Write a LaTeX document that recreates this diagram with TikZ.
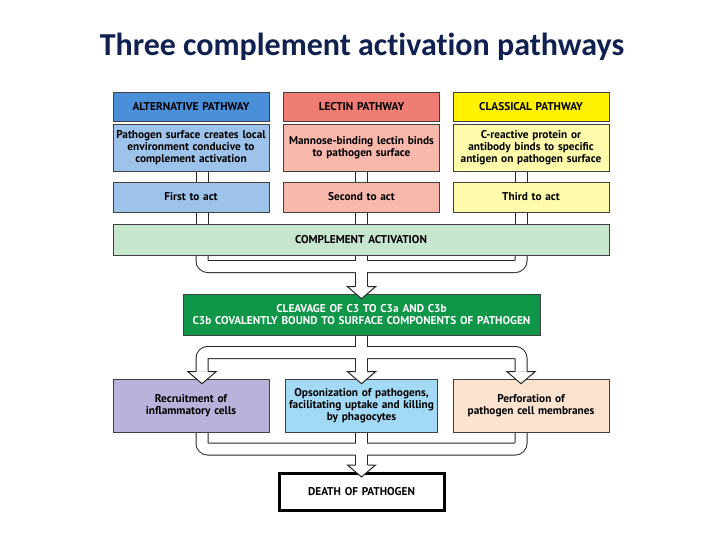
\documentclass[tikz,border=0pt]{standalone}
\usepackage{fontspec}
\setmainfont{PT Sans}
\newfontfamily\titlefont[Ligatures=NoCommon]{Carlito}
\usetikzlibrary{backgrounds,calc}
\definecolor{titleblue}{RGB}{16,32,80}
\definecolor{altdark}{RGB}{74,144,217}
\definecolor{altlight}{RGB}{158,195,235}
\definecolor{lecdark}{RGB}{240,125,115}
\definecolor{leclight}{RGB}{249,184,172}
\definecolor{cladark}{RGB}{255,242,0}
\definecolor{clalight}{RGB}{255,251,170}
\definecolor{complgreen}{RGB}{199,230,207}
\definecolor{cleavgreen}{RGB}{16,150,72}
\definecolor{recruitc}{RGB}{183,179,219}
\definecolor{opsonc}{RGB}{162,218,246}
\definecolor{perfc}{RGB}{252,227,207}
\newcommand{\openhead}[1]{%
  \begin{scope}[shift={#1}]
    \fill[white] (-14,-7) -- (14,-7) -- (0,5) -- cycle;
    \draw[headline] (-6,-7) -- (-14,-7) -- (0,5) -- (14,-7) -- (6,-7);
  \end{scope}}

\begin{document}
\begin{tikzpicture}[x=1pt, y=-1pt,
    box/.style={draw=black!75, line width=0.6pt, inner sep=0pt, align=center,
      font=\bfseries\fontsize{11.3}{12}\selectfont},
    colbox/.style={box, text width=156pt},
    headline/.style={draw=black!85, line width=1pt, line join=miter},
    pipeout/.style={line width=13pt, draw=black!85, rounded corners=6pt},
    pipein/.style={line width=11pt, draw=white, rounded corners=6pt}]
  \useasboundingbox (0,0) rectangle (720,540);
  \node[text=titleblue, font=\titlefont\bfseries\fontsize{32}{36}\selectfont] (title) at (362,47) {Three complement activation pathways};

  \coordinate (colA) at (202,0);
  \coordinate (colB) at (361.5,0);
  \coordinate (colC) at (521,0);
  \coordinate (hubTop) at (361.5,266.5);
  \coordinate (hubMid) at (361.5,352.5);
  \coordinate (hubLow) at (361.5,449);

  \node[colbox, fill=altdark, minimum height=29pt] (altHead) at (191,106.5) {ALTERNATIVE PATHWAY};
  \node[colbox, fill=lecdark, minimum height=29pt] (lecHead) at (361.5,106.5) {LECTIN PATHWAY};
  \node[colbox, fill=cladark, minimum height=29pt] (claHead) at (531,106.5) {CLASSICAL PATHWAY};

  \node[colbox, fill=altlight, minimum height=47pt] (altDesc) at (191,147.5) {Pathogen surface creates local\\environment conducive to\\complement activation};
  \node[colbox, fill=leclight, minimum height=47pt] (lecDesc) at (361.5,147.5) {Mannose-binding lectin binds\\to pathogen surface};
  \node[colbox, fill=clalight, minimum height=47pt] (claDesc) at (531,147.5) {C-reactive protein or\\antibody binds to specific\\antigen on pathogen surface};

  \node[colbox, fill=altlight, minimum height=30pt] (altAct) at (191,197) {First to act};
  \node[colbox, fill=leclight, minimum height=30pt] (lecAct) at (361.5,197) {Second to act};
  \node[colbox, fill=clalight, minimum height=30pt] (claAct) at (531,197) {Third to act};

  \node[box, fill=complgreen, text width=496pt, minimum height=31pt] (compl) at (361,239.5) {COMPLEMENT ACTIVATION};
  \node[box, fill=cleavgreen, text=white, text width=357pt, minimum height=41pt] (green) at (361.5,314.5) {CLEAVAGE OF C3 TO C3a AND C3b\\C3b COVALENTLY BOUND TO SURFACE COMPONENTS OF PATHOGEN};

  \node[colbox, fill=recruitc, minimum height=53pt] (recruit) at (191,405.5) {Recruitment of\\inflammatory cells};
  \node[box, fill=opsonc, text width=152pt, minimum height=53pt] (opson) at (361.5,405.5) {Opsonization of pathogens,\\facilitating uptake and killing\\by phagocytes};
  \node[colbox, fill=perfc, minimum height=53pt] (perf) at (531,405.5) {Perforation of\\pathogen cell membranes};

  \node[box, draw=black, line width=3pt, fill=white, text width=165pt, minimum height=37pt] (death) at (361.5,492) {DEATH OF PATHOGEN};

  \begin{scope}[on background layer]
    \foreach \st in {pipeout,pipein}{
      \foreach \n/\c in {alt/colA,lec/colB,cla/colC}{
        \draw[\st] (\n Desc.south -| \c) -- (\n Act.north -| \c);
        \draw[\st] (\n Act.south -| \c) -- (compl.north -| \c);
      }
      \draw[\st] (compl.south -| colA) |- (hubTop);
      \draw[\st] (compl.south -| colC) |- (hubTop);
      \draw[\st] (compl.south -| colB) -- ($(green.north)+(0,-7)$);
      \draw[\st] (green.south) -- ($(opson.north)+(0,-7)$);
      \draw[\st] (hubMid) -| ($(recruit.north -| colA)+(0,-7)$);
      \draw[\st] (hubMid) -| ($(perf.north -| colC)+(0,-7)$);
      \draw[\st] (recruit.south -| colA) |- (hubLow);
      \draw[\st] (perf.south -| colC) |- (hubLow);
      \draw[\st] (opson.south) -- ($(death.north)+(0,-7)$);
    }
  \end{scope}

  \openhead{(green.north)}
  \openhead{(recruit.north -| colA)}
  \openhead{(opson.north)}
  \openhead{(perf.north -| colC)}
  \openhead{(death.north)}
\end{tikzpicture}
\end{document}
